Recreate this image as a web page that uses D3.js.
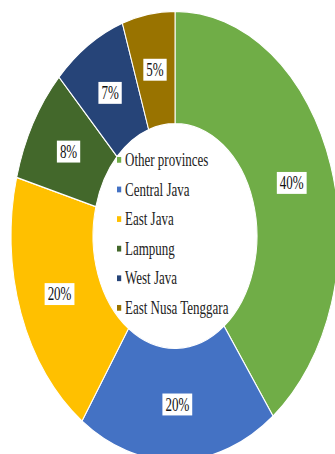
<!DOCTYPE html>
<html>
<head>
<meta charset="utf-8">
<script src="https://cdn.jsdelivr.net/npm/d3@7"></script>
<style>
  html, body { margin: 0; padding: 0; background: #ffffff; }
  svg { display: block; }
</style>
</head>
<body>
<svg id="chart" width="335" height="454"></svg>
<script>
const categories = ["Other provinces", "Central Java", "East Java", "Lampung", "West Java", "East Nusa Tenggara"];
const values = [39.8, 19.8, 19.6, 8.3, 7.3, 5.2];
const labels = ["40%", "20%", "20%", "8%", "7%", "5%"];
const colors = ["#70AD47", "#4472C4", "#FFC000", "#43682B", "#264478", "#997300"];

const W = 335, H = 454;
const cx = 175, cy = 236, R = 164, sy = 1.37;
const fontFam = "'Liberation Serif', 'DejaVu Serif', serif";

const svg = d3.select("#chart");
const main = svg.append("g").attr("transform", `translate(${cx},${cy}) scale(1,${sy})`);

const pie = d3.pie().sort(null).value(d => d.v);
const data = categories.map((c, i) => ({ c, v: values[i], label: labels[i], color: colors[i] }));
const arcs = pie(data);
const arc = d3.arc().innerRadius(R * 0.5).outerRadius(R);

main.selectAll("path.slice").data(arcs).join("path")
  .attr("class", "slice")
  .attr("d", arc)
  .attr("fill", d => d.data.color)
  .attr("stroke", "#ffffff")
  .attr("stroke-width", 1);

const lab = main.selectAll("g.lab").data(arcs).join("g")
  .attr("class", "lab")
  .attr("transform", d => { const [x, y] = arc.centroid(d); return `translate(${x},${y})`; });

lab.each(function(d) {
  const g = d3.select(this);
  const rect = g.append("rect").attr("fill", "#ffffff");
  const t = g.append("text")
    .attr("text-anchor", "middle")
    .attr("y", "0.34em")
    .attr("font-family", fontFam)
    .attr("font-size", 13)
    .attr("fill", "#111")
    .text(d.data.label);
  const w = t.node().getComputedTextLength();
  rect.attr("x", -w / 2 - 3).attr("y", -8).attr("width", w + 6).attr("height", 16);
});

// Legend inside the hole
const legendY0 = 160, legendStep = 29.6;
const leg = svg.append("g");
const items = leg.selectAll("g.item").data(data).join("g")
  .attr("class", "item")
  .attr("transform", (d, i) => `translate(117,${legendY0 + i * legendStep}) scale(1,${sy})`);
items.append("rect")
  .attr("x", 0).attr("y", -2.2).attr("width", 4.2).attr("height", 4.2)
  .attr("fill", d => d.color);
items.append("text")
  .attr("x", 8).attr("y", "0.34em")
  .attr("font-family", fontFam)
  .attr("font-size", 13)
  .attr("fill", "#222")
  .text(d => d.c);
</script>
</body>
</html>
